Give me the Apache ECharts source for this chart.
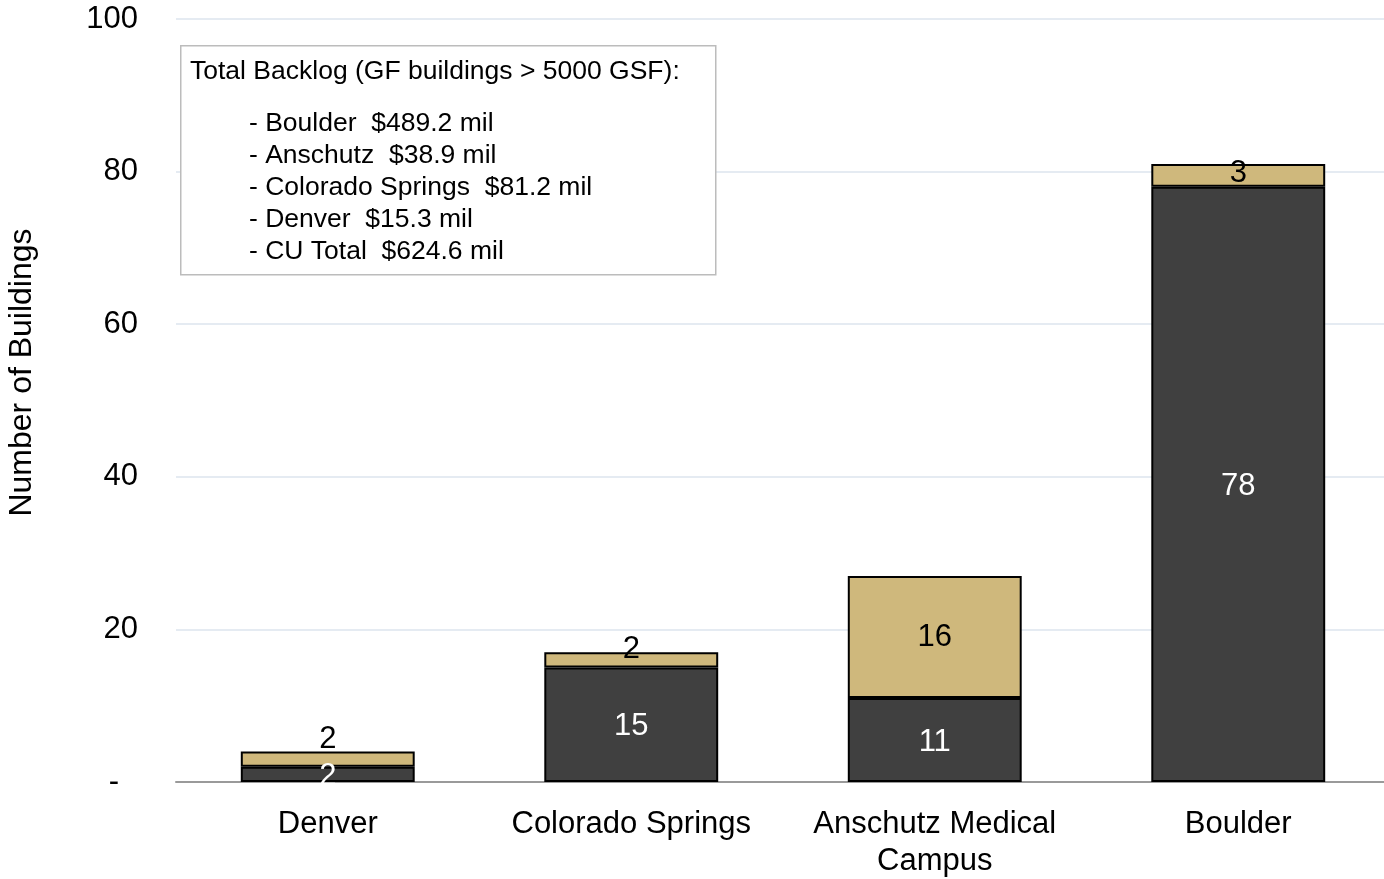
<!DOCTYPE html>
<html>
<head>
<meta charset="utf-8">
<script src="https://cdn.jsdelivr.net/npm/echarts@6/dist/echarts.min.js"></script>
<style>
  html, body { margin: 0; padding: 0; background: #fff; }
  #myChart { width: 1384px; height: 879px; }
</style>
</head>
<body>
<div id="myChart"></div>
<script>
// categories and values
var campuses = ["Denver", "Colorado Springs", "Anschutz Medical\nCampus", "Boulder"];
var darkCounts = [2, 15, 11, 78];
var goldCounts = [2, 2, 16, 3];
var yTicks = { min: 0, max: 100, interval: 20 };
var noteTitle = "Total Backlog (GF buildings > 5000 GSF):";
var noteLines = [
  "- Boulder  $489.2 mil",
  "- Anschutz  $38.9 mil",
  "- Colorado Springs  $81.2 mil",
  "- Denver  $15.3 mil",
  "- CU Total  $624.6 mil"
];
// small gold segments: label pushed up like the original (px)
var goldLabelLift = [-20, -10, 0, -2];

var font = "Liberation Sans, Arial, Helvetica, sans-serif";
var myChart = echarts.init(document.getElementById("myChart"));

var noteGraphics = [{
  type: "rect",
  left: 180, top: 45,
  shape: { width: 535, height: 229 },
  style: { fill: "#fff", stroke: "#bcbcbc", lineWidth: 1.5 },
  z: 100
}, {
  type: "text",
  left: 190, top: 58,
  style: { text: noteTitle, font: "26.5px " + font, fill: "#000" },
  z: 101
}];
for (var i = 0; i < noteLines.length; i++) {
  noteGraphics.push({
    type: "text",
    left: 249, top: 110 + i * 32,
    style: { text: noteLines[i], font: "26.5px " + font, fill: "#000" },
    z: 101
  });
}

var goldData = goldCounts.map(function (v, i) {
  return { value: v, label: { offset: [0, goldLabelLift[i]] } };
});

myChart.setOption({
  animation: false,
  textStyle: { fontFamily: font },
  grid: { left: 176, top: 19, width: 1214, height: 763, containLabel: false, outerBoundsMode: "none" },
  xAxis: {
    type: "category",
    data: campuses,
    axisLine: { lineStyle: { color: "#9a9a9a", width: 2 } },
    axisTick: { show: false },
    axisLabel: { color: "#000", fontSize: 31, margin: 24, lineHeight: 37, interval: 0 }
  },
  yAxis: {
    type: "value",
    min: yTicks.min, max: yTicks.max, interval: yTicks.interval,
    name: "Number of Buildings",
    nameLocation: "middle",
    nameGap: 138,
    nameTextStyle: { color: "#000", fontSize: 32, padding: [0, 0, 0, 56] },
    axisLine: { show: false },
    axisTick: { show: false },
    axisLabel: {
      color: "#000", fontSize: 31, margin: 38,
      formatter: function (v) { return v === 0 ? "{dash|-}" : String(v); },
      rich: { dash: { fontSize: 31, color: "#000", padding: [0, 19, 0, 0] } }
    },
    splitLine: { lineStyle: { color: "#dde5ee", width: 1.5 } }
  },
  series: [{
    name: "dark",
    type: "bar",
    stack: "total",
    barWidth: "57.3%",
    data: darkCounts,
    itemStyle: { color: "#404040", borderColor: "#000", borderWidth: 2 },
    label: { show: true, position: "inside", color: "#fff", fontSize: 31, offset: [0, 2] }
  }, {
    name: "gold",
    type: "bar",
    stack: "total",
    barWidth: "57.3%",
    data: goldData,
    itemStyle: { color: "#cfb87c", borderColor: "#000", borderWidth: 2 },
    label: { show: true, position: "inside", color: "#000", fontSize: 31 }
  }],
  graphic: noteGraphics
});
</script>
</body>
</html>
